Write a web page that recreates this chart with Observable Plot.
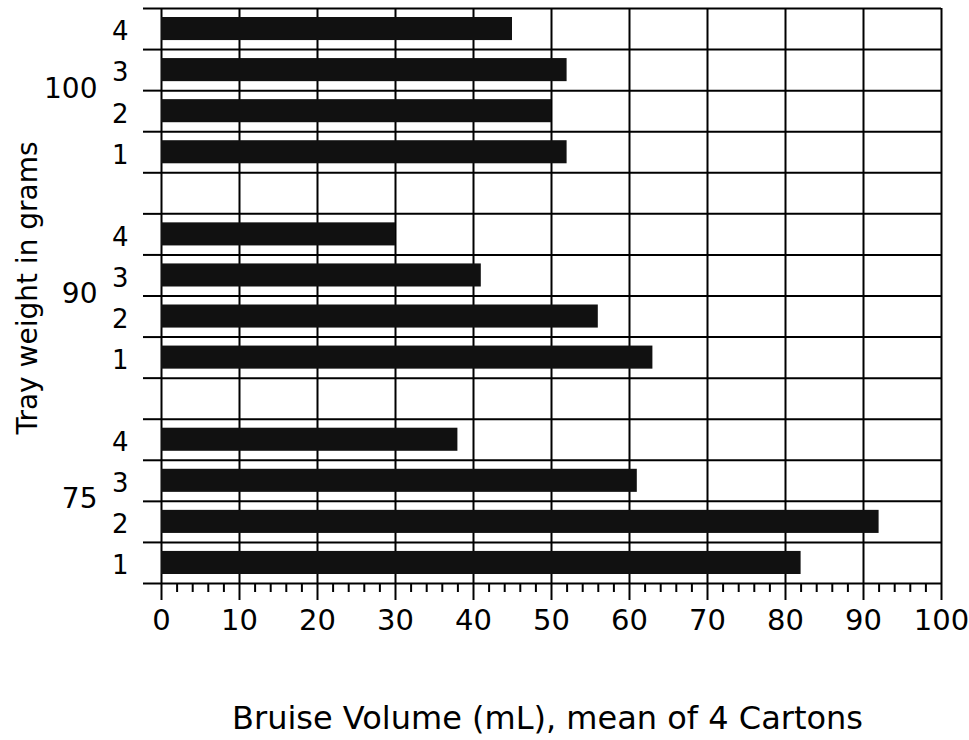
<!DOCTYPE html>
<html>
<head>
<meta charset="utf-8">
<script src="https://cdn.jsdelivr.net/npm/d3@7"></script>
<script src="https://cdn.jsdelivr.net/npm/@observablehq/plot@0.6"></script>
<style>
  body { margin: 0; background: #fff; }
  #chart svg { display: block; }
</style>
</head>
<body>
<div id="chart"></div>
<script>
// Tray weight groups (bottom to top) and carton categories (bottom to top within a group)
const groups = ["75", "90", "100"];
const cartons = ["1", "2", "3", "4"];
// Bruise volume (mL), mean of 4 cartons, per carton 1..4
const bruise75 = [82, 92, 61, 38];
const bruise90 = [63, 56, 41, 30];
const bruise100 = [52, 50, 52, 45];
const xTicks = [0, 10, 20, 30, 40, 50, 60, 70, 80, 90, 100];
const minorTicks = [2, 4, 6, 8, 12, 14, 16, 18, 22, 24, 26, 28, 32, 34, 36, 38, 42, 44, 46, 48,
  52, 54, 56, 58, 62, 64, 66, 68, 72, 74, 76, 78, 82, 84, 86, 88, 92, 94, 96, 98];
const yTitle = "Tray weight in grams";
const xTitle = "Bruise Volume (mL), mean of 4 Cartons";

const series = [bruise75, bruise90, bruise100];
const rowsPerGroup = cartons.length + 1; // one empty band between groups
const nRows = groups.length * rowsPerGroup - 1;
const rows = [];
groups.forEach((g, gi) => cartons.forEach((c, ci) =>
  rows.push({group: g, carton: c, value: series[gi][ci], row: gi * rowsPerGroup + ci})));
const groupRows = groups.map((g, gi) => ({group: g, row: gi * rowsPerGroup + cartons.length / 2}));
const rowLines = d3.range(nRows + 1);

const font = "'DejaVu Sans', Verdana, sans-serif";

const chart = Plot.plot({
  width: 969,
  height: 740,
  marginTop: 8,
  marginLeft: 161,
  marginRight: 28,
  marginBottom: 157,
  style: {fontFamily: font, color: "#000", background: "#fff"},
  x: {domain: [0, 100]},
  y: {domain: [0, nRows]},
  marks: [
    // horizontal grid lines across the frame
    Plot.ruleY(rowLines, {x1: 0, x2: 100, stroke: "#000", strokeWidth: 2}),
    // left tick stubs of the horizontal lines
    Plot.axisY({ticks: rowLines, tickSize: 18, tickFormat: () => "", label: null, strokeWidth: 2, stroke: "#000"}),
    // vertical grid lines
    Plot.ruleX(xTicks, {y1: 0, y2: nRows, stroke: "#000", strokeWidth: 2}),
    // major ticks and labels
    Plot.axisX({ticks: xTicks, tickSize: 17, tickPadding: 9, fontSize: 29, label: null,
      strokeWidth: 2, stroke: "#000", fill: "#000"}),
    // minor ticks
    Plot.axisX({ticks: minorTicks, tickSize: 9, tickFormat: () => "", label: null, strokeWidth: 2, stroke: "#000"}),
    // bars
    Plot.rect(rows, {x1: 0, x2: "value", y1: "row", y2: d => d.row + 1,
      insetTop: 9, insetBottom: 9, fill: "#111"}),
    // carton labels
    Plot.text(rows, {text: "carton", y: d => d.row + 0.5, frameAnchor: "left", dx: -33, dy: 3,
      textAnchor: "end", fontSize: 26, fill: "#000"}),
    // group labels
    Plot.text(groupRows, {text: "group", y: "row", frameAnchor: "left", dx: -64, dy: -2,
      textAnchor: "end", fontSize: 28, fill: "#000"}),
    // axis titles
    Plot.text([yTitle], {text: d => d, frameAnchor: "left", dx: -133, dy: -8, rotate: -90,
      textAnchor: "middle", lineAnchor: "middle", fontSize: 28, fill: "#000"}),
    Plot.text([xTitle], {text: d => d, frameAnchor: "bottom", dy: 135, dx: -4,
      textAnchor: "middle", lineAnchor: "middle", fontSize: 32, fill: "#000"})
  ]
});
document.getElementById("chart").appendChild(chart);
</script>
</body>
</html>
